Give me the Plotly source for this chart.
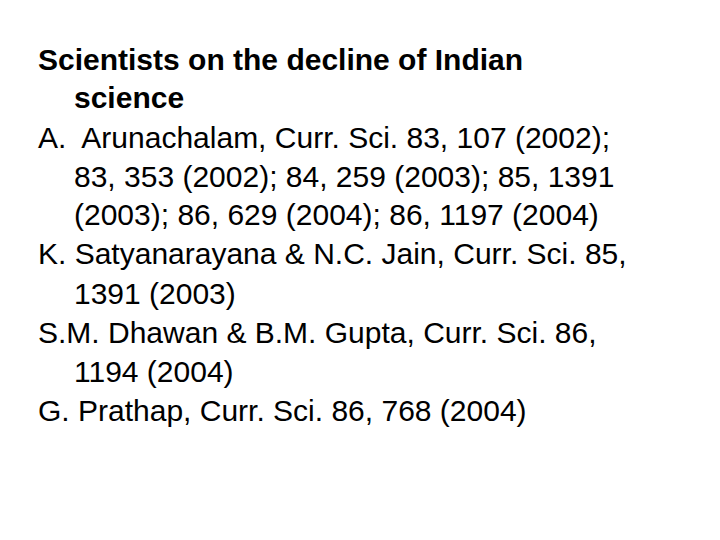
import plotly.graph_objects as go

lines = [
    "Scientists on the decline of Indian",
    "science",
    "A.  Arunachalam, Curr. Sci. 83, 107 (2002);",
    "83, 353 (2002); 84, 259 (2003); 85, 1391",
    "(2003); 86, 629 (2004); 86, 1197 (2004)",
    "K. Satyanarayana & N.C. Jain, Curr. Sci. 85,",
    "1391 (2003)",
    "S.M. Dhawan & B.M. Gupta, Curr. Sci. 86,",
    "1194 (2004)",
    "G. Prathap, Curr. Sci. 86, 768 (2004)",
]
indented = [False, True, False, True, True, False, True, False, True, False]
bold = [True, True] + [False] * 8

W, H = 720, 540
fig = go.Figure()
for i, (txt, ind, b) in enumerate(zip(lines, indented, bold)):
    y = 51 + 39 * i
    fig.add_annotation(
        x=(64 if ind else 28) / W, y=1 - y / H, xref="paper", yref="paper",
        text=f"<b>{txt}</b>" if b else txt, showarrow=False,
        xanchor="left", yanchor="middle",
        font=dict(family="Liberation Sans, Arial", size=30, color="black"),
    )

fig.update_layout(
    width=W, height=H, margin=dict(l=0, r=0, t=0, b=0),
    plot_bgcolor="white", paper_bgcolor="white",
    xaxis=dict(visible=False), yaxis=dict(visible=False),
)
fig.write_html("out.html")
